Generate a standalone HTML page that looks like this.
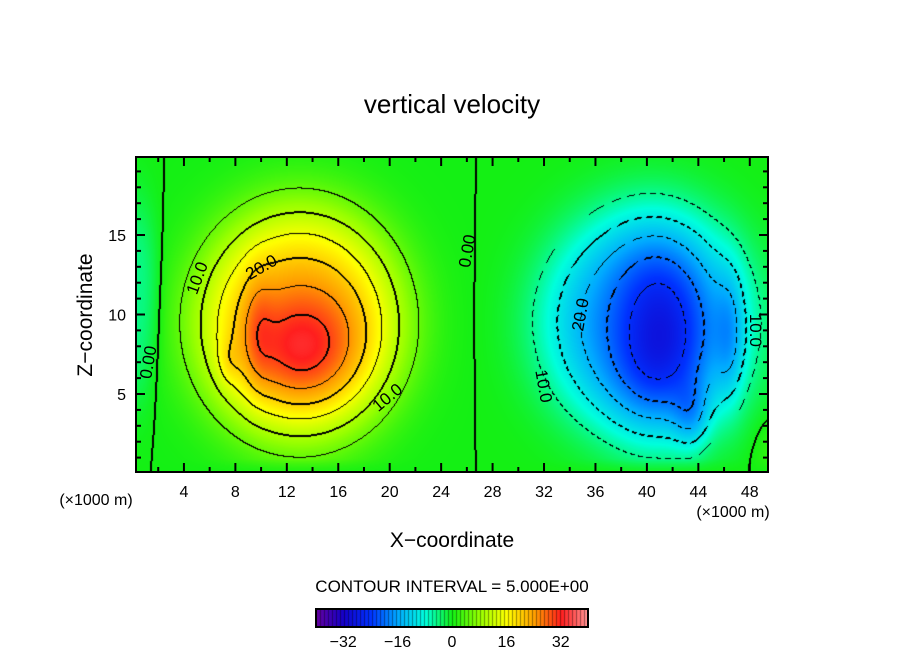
<!DOCTYPE html>
<html><head><meta charset="utf-8"><style>
html,body{margin:0;padding:0;background:#fff;}
#wrap{position:relative;width:904px;height:654px;overflow:hidden;font-family:"Liberation Sans",sans-serif;}
svg text{font-family:"Liberation Sans",sans-serif;}
</style></head><body>
<div id="wrap">
<canvas id="field" width="632" height="315" style="position:absolute;left:136px;top:157px;"></canvas>
<canvas id="cbar" width="272" height="18" style="position:absolute;left:316px;top:609px;"></canvas>
<svg id="ov" width="904" height="654" style="position:absolute;left:0;top:0;">
<text x="452" y="113" font-size="26" text-anchor="middle">vertical velocity</text>
<text x="452" y="547" font-size="21" text-anchor="middle">X−coordinate</text>
<text transform="translate(92,315) rotate(-90)" font-size="21" text-anchor="middle">Z−coordinate</text>
<text x="96" y="505" font-size="16" text-anchor="middle">(×1000 m)</text>
<text x="733" y="517" font-size="16" text-anchor="middle">(×1000 m)</text>
<text x="452" y="592" font-size="17" text-anchor="middle">CONTOUR INTERVAL = 5.000E+00</text>
<g id="axes"></g>
</svg>
</div>
<script>
// Field model: super-Gaussian blobs (x in km, z in km, amplitude m/s, widths, shape power)
const blobX = [13, 13.2, 9.8, 7.5, 40, 41, 46.5, 43.5, 0.2, 49.8];
const blobZ = [9.5, 8, 9, 7, 9.5, 8.5, 8.5, 3.5, 11, 1.5];
const blobAmp = [22, 11, 4, 3, -18, -11, -6, -7, -5, 2];
const blobSX = [6.6, 3, 0.8, 0.6, 6.6, 2.5, 0.8, 1, 1.5, 1];
const blobSZ = [6.0, 2.5, 2.5, 1, 5.8, 4, 3, 1.5, 5, 1.5];
const blobP = [1.6, 1, 1, 1, 1.6, 1, 1, 1, 1.5, 1];
const xTicks = [4, 8, 12, 16, 20, 24, 28, 32, 36, 40, 44, 48];
const zTicks = [5, 10, 15];
const cbarTicks = [-32, -16, 0, 16, 32];
const levelStep = 5;

const X0 = 132.5, XS = 12.86, Y0 = 473.5, YS = 15.9;
const PL = 136, PT = 157, PW = 632, PH = 315;
function xPix(v){ return X0 + XS * v; }
function yPix(v){ return Y0 - YS * v; }
function xVal(px){ return (px - X0) / XS; }
function zVal(py){ return (Y0 - py) / YS; }

function field(x, z){
  let s = 0;
  for (let i = 0; i < blobX.length; i++){
    const dx = (x - blobX[i]) / blobSX[i], dz = (z - blobZ[i]) / blobSZ[i];
    s += blobAmp[i] * Math.exp(-0.5 * Math.pow(dx*dx + dz*dz, blobP[i]));
  }
  s *= Math.min(1, z / 1.0 + 0.1);
  return s;
}
const stops = [[-40,[100,0,160]],[-32,[20,0,200]],[-24,[0,50,255]],[-16,[0,170,255]],[-8,[0,255,220]],[0,[20,240,20]],[8,[150,255,0]],[16,[255,255,0]],[24,[255,160,0]],[32,[255,30,30]],[40,[255,150,150]]];
function cmap(v){
  if (v <= stops[0][0]) return stops[0][1];
  for (let i = 1; i < stops.length; i++){
    if (v <= stops[i][0]){
      const a = stops[i-1], b = stops[i], t = (v - a[0]) / (b[0] - a[0]);
      return [0,1,2].map(k => Math.round(a[1][k] + t * (b[1][k] - a[1][k])));
    }
  }
  return stops[stops.length-1][1];
}
const cv = document.getElementById('field'), ctx = cv.getContext('2d');
const img = ctx.createImageData(PW, PH);
const vals = new Float32Array(PW * PH);
for (let j = 0; j < PH; j++) for (let i = 0; i < PW; i++){
  vals[j*PW+i] = field(xVal(PL + i + 0.5), zVal(PT + j + 0.5));
}
for (let j = 0; j < PH; j++) for (let i = 0; i < PW; i++){
  const v = vals[j*PW+i];
  let c = cmap(v);
  const lv = Math.floor(v / levelStep);
  let line = false, neg = false;
  const nb = [[1,0],[0,1],[-1,0],[0,-1]];
  for (const [di,dj] of nb){
    const ii = i+di, jj = j+dj;
    if (ii<0||jj<0||ii>=PW||jj>=PH) continue;
    const v2 = vals[jj*PW+ii], lv2 = Math.floor(v2 / levelStep);
    if (lv2 !== lv){
      const lev = Math.max(lv, lv2) * levelStep;
      if (di>=0 && dj>=0) line = true;
      if (lev % 10 === 0 && (di<0||dj<0)) line = true;
      neg = lev < 0;
    }
  }
  if (line){
    if (!neg || ((i + j) % 10) < 6) c = [0,0,0];
  }
  const k = (j*PW+i)*4;
  img.data[k]=c[0]; img.data[k+1]=c[1]; img.data[k+2]=c[2]; img.data[k+3]=255;
}
ctx.putImageData(img, 0, 0);
const cb = document.getElementById('cbar'), cbx = cb.getContext('2d');
for (let i = 0; i < 272; i++){
  const v = -40 + 80 * i / 272;
  const c = cmap(v);
  cbx.fillStyle = (i % 4 === 0) ? 'rgb('+c.map(x=>Math.round(x*0.6)).join(',')+')' : 'rgb('+c.join(',')+')';
  cbx.fillRect(i, 0, 1, 18);
}
const NS = 'http://www.w3.org/2000/svg';
const g = document.getElementById('axes');
function mk(tag, attrs){ const e = document.createElementNS(NS, tag); for (const k in attrs) e.setAttribute(k, attrs[k]); g.appendChild(e); return e; }
const frame = mk('rect', {x:PL, y:PT, width:PW, height:PH, fill:'none', stroke:'#000', 'stroke-width':2});


const cbf = mk('rect', {x:316, y:609, width:272, height:18, fill:'none', stroke:'#000', 'stroke-width':2});


for (let v = 2; v <= 48; v += 2){
  const x = xPix(v), len = (v % 4 === 0) ? 9 : 5;
  const t1 = mk('line', {x1:x, x2:x, y1:PT+PH, y2:PT+PH-len, stroke:'#000', 'stroke-width':2});
  
  
  const t2 = mk('line', {x1:x, x2:x, y1:PT, y2:PT+len, stroke:'#000', 'stroke-width':2});
  
  
}
xTicks.forEach(v => {
  const t = mk('text', {x:xPix(v), y:497, 'font-size':16, 'text-anchor':'middle'});
  t.textContent = v;
  
  
});
for (let v = 1; v <= 19; v++){
  const y = yPix(v), len = (v % 5 === 0) ? 9 : 5;
  const t1 = mk('line', {x1:PL, x2:PL+len, y1:y, y2:y, stroke:'#000', 'stroke-width':2});
  
  
  const t2 = mk('line', {x1:PL+PW, x2:PL+PW-len, y1:y, y2:y, stroke:'#000', 'stroke-width':2});
  
  
}
zTicks.forEach(v => {
  const t = mk('text', {x:126, y:yPix(v)+6, 'font-size':16, 'text-anchor':'end'});
  t.textContent = v;
  
  
});
cbarTicks.forEach(v => {
  const t = mk('text', {x:452 + v * 3.4, y:647, 'font-size':16, 'text-anchor':'middle'});
  t.textContent = v < 0 ? '−' + (-v) : v;
  
  
});
const labX = [1.2, 5, 10, 19.8, 26, 34.8, 32, 48.5];
const labZ = [7, 12.3, 13, 4.8, 14, 10, 5.5, 9];
const labT = ['0.00', '10.0', '20.0', '10.0', '0.00', '20.0', '10.0', '10.0'];
const labR = [-80, -70, -30, -40, -80, -80, 80, 90];
labX.forEach((v, i) => {
  const x = xPix(v), y = yPix(labZ[i]);
  const t = mk('text', {x:x, y:y+6, 'font-size':17, 'text-anchor':'middle', transform:'rotate('+labR[i]+' '+x+' '+y+')'});
  t.textContent = labT[i];
  
  
});
</script>
</body></html>
